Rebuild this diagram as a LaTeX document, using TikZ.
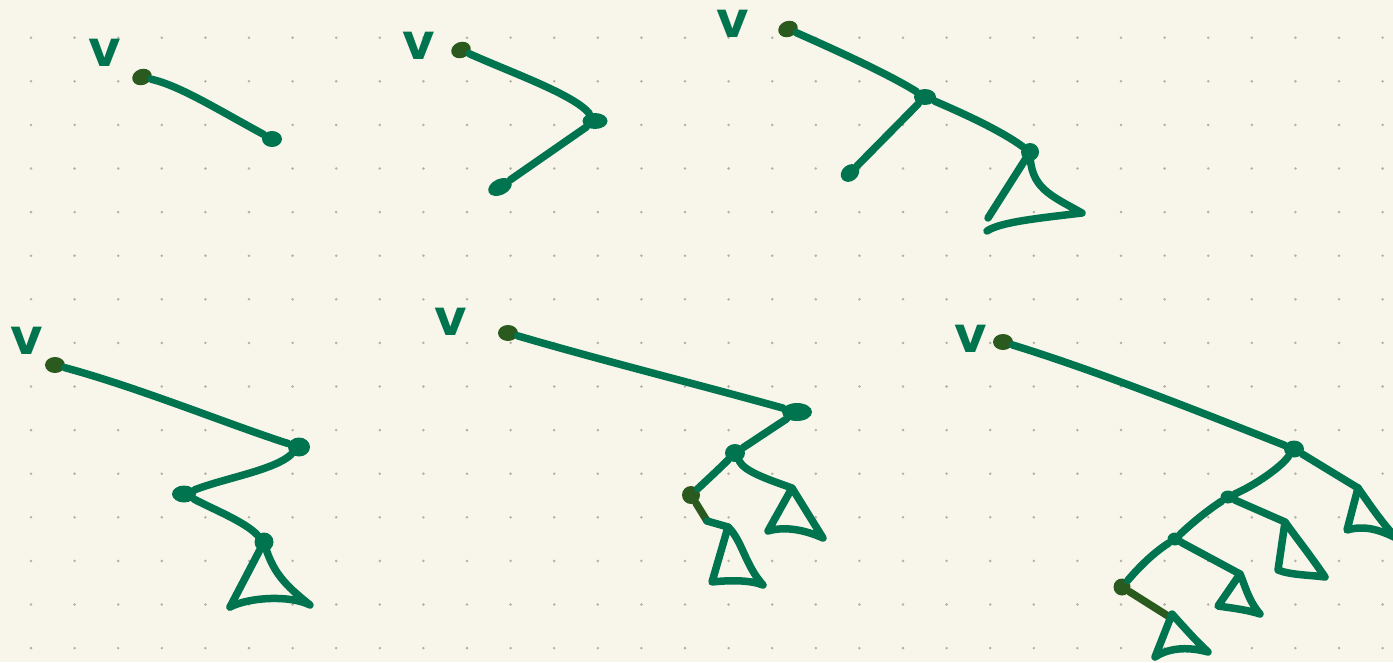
\documentclass[tikz,border=0pt]{standalone}
\usepackage{fontspec}
\usetikzlibrary{shapes.geometric}
\newfontfamily\vfont{DejaVu Sans}
\definecolor{paper}{HTML}{F8F6EA}
\definecolor{ink}{HTML}{00734F}
\definecolor{rootink}{HTML}{2B5A1F}
\definecolor{gridink}{HTML}{B3B1A8}
\tikzset{
  edge/.style={draw=ink, line width=7.5pt, line cap=round, line join=round},
  rootedge/.style={edge, draw=rootink},
  dot/.style={ellipse, fill=ink, draw=none, inner sep=0pt, minimum width=20pt, minimum height=16pt},
  rootdot/.style={dot, fill=rootink},
  lbl/.style={text=ink, inner sep=0pt, text height=27pt, text depth=0pt, font={\vfont\bfseries\fontsize{50}{50}\selectfont}}
}
\begin{document}
\begin{tikzpicture}[x=1pt,y=-1pt]
\fill[paper] (0,0) rectangle (1393,662);
\useasboundingbox (0,0) rectangle (1393,662);
\clip (0,0) rectangle (1393,662);
\foreach \i in {0,...,31}{\foreach \j in {0,...,14}{\fill[gridink] (31+43.6*\i,37.7+43.6*\j) circle (1.4);}}

% ---------- tree 1
\node[lbl] (v1) at (105,53) {v};
\node[rootdot, rotate=20] (r1) at (142,77) {};
\node[dot] (a1) at (272,139) {};
\draw[edge] (r1) .. controls (180,86) and (215,108) .. (a1);

% ---------- tree 2
\node[lbl] (v2) at (419,46) {v};
\node[rootdot, rotate=20] (r2) at (461,50) {};
\node[dot, minimum width=25pt] (a2) at (595,121) {};
\node[dot, minimum width=25pt, rotate=25] (b2) at (500,187) {};
\draw[edge] (r2) .. controls (510,72) and (575,95) .. (a2);
\draw[edge] (a2) -- (b2);

% ---------- tree 3
\node[lbl] (v3) at (733,24) {v};
\node[rootdot, rotate=20] (r3) at (788,29) {};
\node[dot, minimum width=22pt] (n3) at (925,97) {};
\node[dot, rotate=40] (l3) at (850,173) {};
\node[dot, minimum width=18pt, minimum height=18pt] (m3) at (1030,152) {};
\coordinate (t3l) at (988,218);
\coordinate (t3r) at (1082,213);
\coordinate (t3b) at (987,231);
\draw[edge] (r3) .. controls (840,52) and (890,75) .. (n3);
\draw[edge] (n3) -- (l3);
\draw[edge] (n3) .. controls (960,112) and (1000,130) .. (m3);
\draw[edge] (m3.center) -- (t3l);
\draw[edge] (m3.center) .. controls (1030,188) and (1050,195) .. (t3r)
  .. controls (1040,218) and (1000,222) .. (t3b);

% ---------- tree 4
\node[lbl] (v4) at (27,341) {v};
\node[rootdot] (r4) at (55,365) {};
\node[dot, minimum width=22pt, minimum height=19pt] (n4) at (299,447) {};
\node[dot, minimum width=24pt, minimum height=17pt] (m4) at (184,494) {};
\node[dot, minimum width=19pt, minimum height=19pt] (k4) at (264,542) {};
\coordinate (t4l) at (230,607);
\coordinate (t4r) at (310,605);
\draw[edge] (r4) .. controls (140,388) and (230,425) .. (n4);
\draw[edge] (n4) .. controls (275,470) and (225,478) .. (m4);
\draw[edge] (m4) .. controls (215,510) and (245,522) .. (k4);
\draw[edge] (k4.center) -- (t4l);
\draw[edge] (k4.center) .. controls (272,572) and (285,585) .. (t4r)
  .. controls (290,595) and (250,597) .. (t4l);

% ---------- tree 5
\node[lbl] (v5) at (451,322) {v};
\node[rootdot] (r5) at (508,333) {};
\node[dot, minimum width=30pt, minimum height=18pt] (n5) at (797,412) {};
\node[dot, minimum width=20pt, minimum height=18pt] (m5) at (735,453) {};
\node[rootdot, minimum width=18pt, minimum height=18pt] (d5) at (691,495) {};
\coordinate (a5) at (792,488);
\coordinate (a5l) at (768,531);
\coordinate (a5r) at (823,538);
\coordinate (e5) at (707,521);
\coordinate (b5) at (728,527);
\coordinate (b5l) at (712,582);
\coordinate (b5r) at (763,585);
\draw[edge] (r5) .. controls (600,360) and (700,385) .. (n5);
\draw[edge] (n5) -- (m5);
\draw[edge] (m5) .. controls (720,468) and (705,482) .. (d5);
\draw[edge] (m5) .. controls (745,472) and (770,480) .. (a5);
\draw[edge] (a5) -- (a5l) .. controls (785,526) and (805,530) .. (a5r) -- cycle;
\draw[rootedge] (d5) -- (e5);
\draw[edge] (e5) -- (b5);
\draw[edge] (b5) -- (b5l) .. controls (730,580) and (750,580) .. (b5r)
  .. controls (745,565) and (742,540) .. (b5);

% ---------- tree 6
\node[lbl] (v6) at (971,339) {v};
\node[rootdot] (r6) at (1003,342) {};
\node[dot, minimum width=20pt, minimum height=17pt] (n6) at (1294,449) {};
\node[dot, minimum width=15pt, minimum height=13pt] (m6) at (1228,497) {};
\node[dot, minimum width=15pt, minimum height=13pt] (k6) at (1175,539) {};
\node[rootdot, minimum width=17pt, minimum height=17pt] (d6) at (1122,587) {};
\coordinate (a6) at (1358,488);
\coordinate (a6l) at (1347,530);
\coordinate (a6r) at (1396,538);
\coordinate (b6) at (1285,522);
\coordinate (b6l) at (1278,570);
\coordinate (b6r) at (1325,577);
\coordinate (c6) at (1240,574);
\coordinate (c6l) at (1218,606);
\coordinate (c6r) at (1260,614);
\coordinate (e6) at (1168,616);
\coordinate (f6) at (1172,614);
\coordinate (f6l) at (1155,657);
\coordinate (f6r) at (1208,652);
\draw[edge] (r6) .. controls (1100,372) and (1200,412) .. (n6);
\draw[edge] (n6) -- (a6);
\draw[edge] (a6) -- (a6l) .. controls (1365,525) and (1380,530) .. (a6r);
\draw[edge] (a6) .. controls (1370,505) and (1380,520) .. (a6r);
\draw[edge] (n6) .. controls (1280,468) and (1255,485) .. (m6);
\draw[edge] (m6) -- (b6);
\draw[edge] (b6) -- (b6l) .. controls (1290,575) and (1310,575) .. (b6r)
  .. controls (1310,555) and (1298,540) .. (b6);
\draw[edge] (m6) .. controls (1205,512) and (1190,525) .. (k6);
\draw[edge] (k6) -- (c6);
\draw[edge] (c6) -- (c6l) .. controls (1232,608) and (1248,610) .. (c6r)
  .. controls (1248,600) and (1245,585) .. (c6);
\draw[edge] (k6) .. controls (1150,555) and (1135,572) .. (d6);
\draw[rootedge] (d6) -- (e6);
\draw[edge] (f6) -- (f6l) .. controls (1170,647) and (1190,647) .. (f6r)
  .. controls (1195,640) and (1182,625) .. (f6);
\end{tikzpicture}
\end{document}
